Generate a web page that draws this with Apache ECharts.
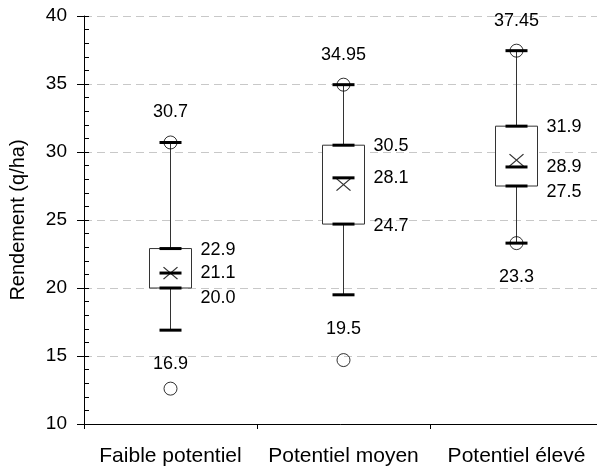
<!DOCTYPE html>
<html>
<head>
<meta charset="utf-8">
<script src="https://cdn.jsdelivr.net/npm/echarts@6/dist/echarts.min.js"></script>
<style>
html,body{margin:0;padding:0;background:#fff;}
#chart{width:597px;height:468px;}
</style>
</head>
<body>
<div id="chart"></div>
<script>
var categories = ['Faible potentiel', 'Potentiel moyen', 'Potentiel élevé'];
var lowWhisker = [16.9, 19.5, 23.3];
var q1 = [20.0, 24.7, 27.5];
var median = [21.1, 28.1, 28.9];
var q3 = [22.9, 30.5, 31.9];
var highWhisker = [30.7, 34.95, 37.45];
var means = [21.1, 27.6, 29.4];
var minValues = [12.6, 14.7, 23.3];
var maxValues = [30.7, 34.95, 37.45];
var yTicks = [10, 15, 20, 25, 30, 35, 40];

var FONT = '"Liberation Sans", Arial, sans-serif';

function fmt(v) {
  var s = String(v);
  if (s.indexOf('.') < 0) s += '.0';
  return s;
}

var boxData = categories.map(function (c, i) {
  return [i, lowWhisker[i], q1[i], median[i], q3[i], highWhisker[i]];
});
var extremeData = [];
categories.forEach(function (c, i) {
  extremeData.push([i, maxValues[i]]);
  extremeData.push([i, minValues[i]]);
});
var meanData = categories.map(function (c, i) { return [i, means[i]]; });

function renderBox(params, api) {
  var i = api.value(0);
  var lo = api.coord([i, api.value(1)]);
  var b1 = api.coord([i, api.value(2)]);
  var md = api.coord([i, api.value(3)]);
  var b3 = api.coord([i, api.value(4)]);
  var hi = api.coord([i, api.value(5)]);
  var cx = lo[0];
  var bw = 42, cw = 22;
  var thin = { stroke: '#333', lineWidth: 1 };
  var thick = { stroke: '#000', lineWidth: 3 };
  var lx = cx + 30;
  var txt = function (t, x, y, align) {
    return { type: 'text', style: { text: t, x: x, y: y, fill: '#000', font: '18px ' + FONT, align: align, verticalAlign: 'middle' } };
  };
  var medLabelY = md[1];
  var q1LabelY = Math.max(b1[1] + 2, medLabelY + 25);
  return {
    type: 'group',
    children: [
      { type: 'line', shape: { x1: cx, y1: lo[1], x2: cx, y2: b1[1] }, style: thin },
      { type: 'line', shape: { x1: cx, y1: b3[1], x2: cx, y2: hi[1] }, style: thin },
      { type: 'rect', shape: { x: cx - bw / 2, y: b3[1], width: bw, height: b1[1] - b3[1] }, style: { fill: '#fff', stroke: '#333', lineWidth: 1 } },
      { type: 'line', shape: { x1: cx - cw / 2, y1: lo[1], x2: cx + cw / 2, y2: lo[1] }, style: thick },
      { type: 'line', shape: { x1: cx - cw / 2, y1: hi[1], x2: cx + cw / 2, y2: hi[1] }, style: thick },
      { type: 'line', shape: { x1: cx - cw / 2, y1: b1[1], x2: cx + cw / 2, y2: b1[1] }, style: thick },
      { type: 'line', shape: { x1: cx - cw / 2, y1: b3[1], x2: cx + cw / 2, y2: b3[1] }, style: thick },
      { type: 'line', shape: { x1: cx - cw / 2, y1: md[1], x2: cx + cw / 2, y2: md[1] }, style: thick },
      txt(fmt(api.value(5)), cx, hi[1] - 30, 'center'),
      txt(fmt(api.value(1)), cx, lo[1] + 34, 'center'),
      txt(fmt(api.value(4)), lx, b3[1] + 1, 'left'),
      txt(fmt(api.value(3)), lx, medLabelY, 'left'),
      txt(fmt(api.value(2)), lx, q1LabelY, 'left')
    ]
  };
}

var chart = echarts.init(document.getElementById('chart'), null, { renderer: 'canvas' });
chart.setOption({
  animation: false,
  backgroundColor: '#fff',
  textStyle: { fontFamily: FONT },
  grid: { left: 84, right: -6, top: 16, bottom: 44, containLabel: false, outerBoundsMode: 'none' },
  xAxis: {
    type: 'category',
    data: categories,
    boundaryGap: true,
    axisLine: { lineStyle: { color: '#000', width: 1 } },
    axisTick: { show: true, length: 5, lineStyle: { color: '#000' }, interval: 0 },
    axisLabel: { color: '#000', fontSize: 21, fontFamily: FONT, margin: 22, interval: 0, hideOverlap: false },
    splitLine: { show: false }
  },
  yAxis: [{
    type: 'value',
    min: yTicks[0], max: yTicks[yTicks.length - 1], interval: 5,
    name: 'Rendement (q/ha)',
    nameLocation: 'middle',
    nameRotate: 90,
    nameGap: 56,
    nameTextStyle: { color: '#000', fontSize: 20, fontFamily: FONT },
    axisLine: { show: true, lineStyle: { color: '#000', width: 1 } },
    axisTick: { show: true, length: 7, lineStyle: { color: '#000' } },
    axisLabel: { color: '#000', fontSize: 19, fontFamily: FONT, margin: 17 },
    splitLine: { show: true, lineStyle: { color: '#c8c8c8', width: 1, type: [8, 5] } }
  }, {
    type: 'value',
    position: 'left',
    min: 10, max: 40, interval: 1,
    axisLine: { show: false },
    axisTick: { show: true, inside: true, length: 5, lineStyle: { color: '#000' } },
    axisLabel: { show: false },
    splitLine: { show: false }
  }],
  series: [{
    type: 'custom',
    renderItem: renderBox,
    data: boxData,
    encode: { x: 0, y: [1, 2, 3, 4, 5] },
    z: 2
  }, {
    type: 'scatter',
    data: extremeData,
    symbol: 'circle',
    symbolSize: 13,
    itemStyle: { color: 'rgba(0,0,0,0)', borderColor: '#000', borderWidth: 1 },
    z: 3
  }, {
    type: 'scatter',
    data: meanData,
    symbol: 'path://M0,0L10,10M10,0L0,10',
    symbolSize: [14, 12],
    itemStyle: { color: 'rgba(0,0,0,0)', borderColor: '#000', borderWidth: 1.2 },
    z: 4
  }]
});
</script>
</body>
</html>
